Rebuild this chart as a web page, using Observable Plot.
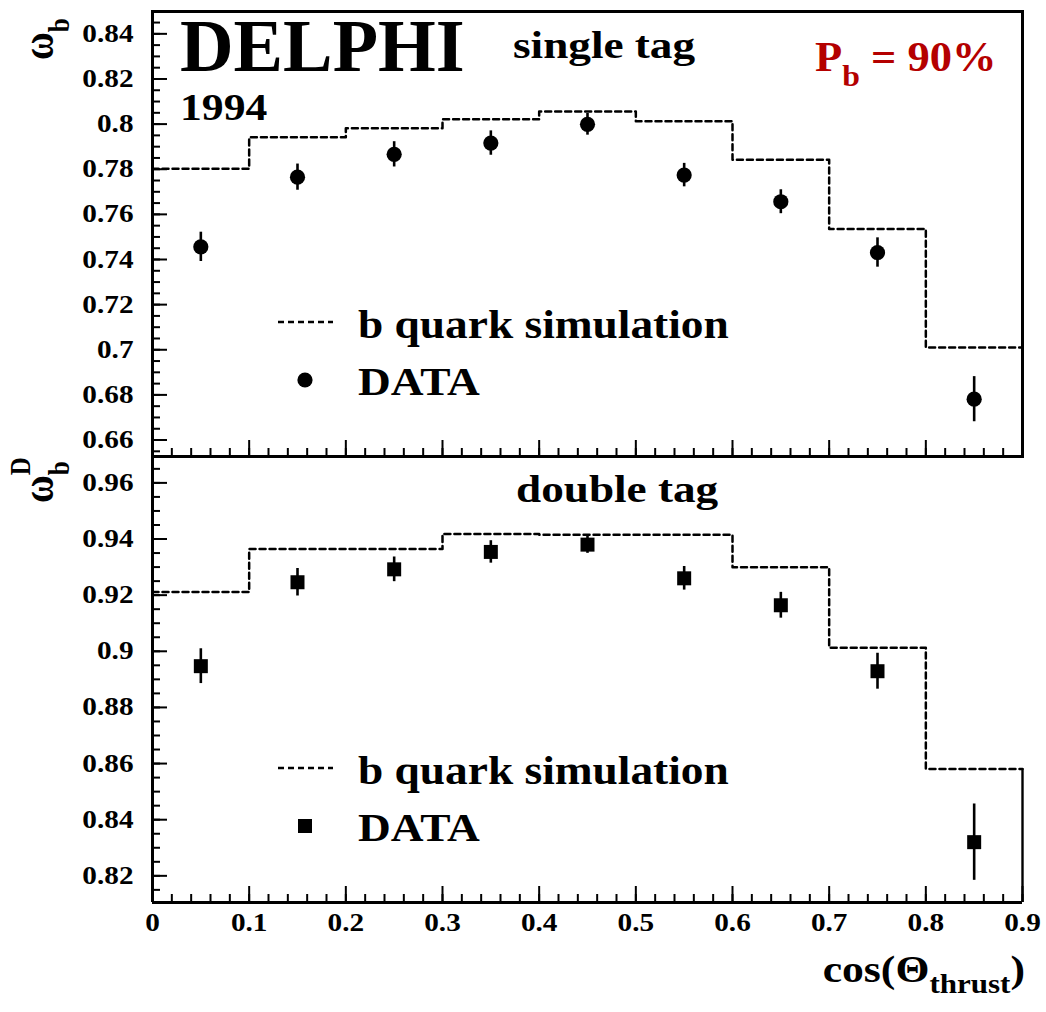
<!DOCTYPE html>
<html><head><meta charset="utf-8">
<script src="https://cdn.jsdelivr.net/npm/d3@7"></script>
<script src="https://cdn.jsdelivr.net/npm/@observablehq/plot@0.6"></script>
<style>
body{margin:0;background:#fff;}
#wrap{position:relative;width:1046px;height:1012px;overflow:hidden;background:#fff;}
#wrap svg{position:absolute;left:0;max-width:none;}
</style></head><body><div id="wrap"></div>
<script>
// ---- data ----
const binEdges   = [0, 0.1, 0.2, 0.3, 0.4, 0.5, 0.6, 0.7, 0.8, 0.9];
const binCenters = [0.05, 0.15, 0.25, 0.35, 0.45, 0.55, 0.65, 0.75, 0.85];

const simSingle  = [0.7802, 0.7942, 0.7982, 0.8021, 0.8056, 0.8013, 0.7842, 0.7535, 0.7010];
const dataSingle = [0.7456, 0.7765, 0.7866, 0.7916, 0.7999, 0.7774, 0.7656, 0.7431, 0.6781];
const errSingle  = [0.0065, 0.0058, 0.0056, 0.0054, 0.0048, 0.0052, 0.0053, 0.0065, 0.0100];

const simDouble  = [0.9211, 0.9364, 0.9364, 0.9418, 0.9415, 0.9415, 0.9299, 0.9013, 0.8581];
const dataDouble = [0.8947, 0.9246, 0.9292, 0.9354, 0.9380, 0.9260, 0.9164, 0.8929, 0.8320];
const errDouble  = [0.0062, 0.0049, 0.0044, 0.0040, 0.0031, 0.0042, 0.0046, 0.0064, 0.0136];

const xTickLabels   = [0, 0.1, 0.2, 0.3, 0.4, 0.5, 0.6, 0.7, 0.8, 0.9];
const yTickSingle   = [0.66, 0.68, 0.70, 0.72, 0.74, 0.76, 0.78, 0.80, 0.82, 0.84];
const yTickDouble   = [0.82, 0.84, 0.86, 0.88, 0.90, 0.92, 0.94, 0.96];

const xDomain = [0, 0.9];
const yDomainSingle = [0.6527, 0.8499];
const yDomainDouble = [0.8105, 0.9694];

// ---- layout ----
const W = 1046, ML = 152, MR = 24;
const FONT = '"Liberation Serif","Times New Roman",Times,serif';
const SX = 1.17; // horizontal stretch of the original text
const fmt = d => String(Math.round(d * 1000) / 1000);
const minorOf = (dom, step) => d3.range(Math.ceil(dom[0] / step - 1e-9), Math.floor(dom[1] / step + 1e-9) + 1).map(i => +(i * step).toFixed(4));
const DASH = "6,4";

function panel(o) {
  const plotH = o.height - o.marginTop - o.marginBottom;
  const plotW = W - ML - MR;
  const step = binEdges.map((e, i) => ({x: e, y: o.sim[Math.min(i, o.sim.length - 1)]}));
  const pts = binCenters.map((c, i) => ({x: c, y: o.val[i], e: o.err[i]}));
  const yMinor = minorOf(o.yDomain, 0.005);
  const xMinor = minorOf(xDomain, 0.02);
  const marks = [
    Plot.line(step, {x: "x", y: "y", curve: "step-after", stroke: "#000", strokeWidth: 2.5, strokeDasharray: DASH}),
    Plot.ruleX(pts, {x: "x", y1: d => d.y - d.e, y2: d => d.y + d.e, stroke: "#000", strokeWidth: 2.6}),
    Plot.dot(pts, {x: "x", y: "y", r: o.r, symbol: o.symbol, fill: "#000", stroke: "none"}),
    // ticks (inward)
    Plot.ruleY(yMinor, {y: d => d, insetRight: plotW - 8, stroke: "#000", strokeWidth: 2}),
    Plot.ruleY(o.yTicks, {y: d => d, insetRight: plotW - 15, stroke: "#000", strokeWidth: 2}),
    Plot.ruleX(xMinor, {x: d => d, insetTop: plotH - 8, stroke: "#000", strokeWidth: 2}),
    Plot.ruleX(xTickLabels, {x: d => d, insetTop: plotH - 16, stroke: "#000", strokeWidth: 2}),
    Plot.axisY(o.yTicks, {tickSize: 0, tickPadding: 19, tickFormat: fmt, label: null, fontSize: 25, fontWeight: "bold", fontFamily: FONT, fill: "#000"})
  ];
  if (o.fullFrame) marks.push(Plot.frame({stroke: "#000", strokeWidth: 3}));
  else {
    marks.push(Plot.ruleX([xDomain[0]], {stroke: "#000", strokeWidth: 3}));
    marks.push(Plot.ruleY([o.yDomain[0]], {stroke: "#000", strokeWidth: 3}));
    marks.push(Plot.ruleX([binEdges[binEdges.length - 1]], {y1: o.sim[o.sim.length - 1], y2: o.yDomain[0], stroke: "#000", strokeWidth: 2.4}));
  }
  if (o.showX) marks.push(Plot.axisX(xTickLabels, {tickSize: 0, tickPadding: 11, tickFormat: fmt, label: null, fontSize: 25, fontWeight: "bold", fontFamily: FONT, fill: "#000"}));
  const svg = Plot.plot({
    width: W, height: o.height,
    marginLeft: ML, marginRight: MR, marginTop: o.marginTop, marginBottom: o.marginBottom,
    style: {fontFamily: FONT, fontWeight: "bold", fontSize: "25px", color: "#000", background: "transparent", overflow: "visible"},
    x: {domain: xDomain, axis: null},
    y: {domain: o.yDomain, axis: null},
    marks
  });
  svg.setAttribute("font-family", FONT);
  svg.querySelectorAll("text").forEach(t => {
    t.style.fontFamily = FONT;
    const tr = t.getAttribute("transform");
    if (tr && !t.hasAttribute("x")) t.setAttribute("transform", tr + ` scale(${SX},1)`);
  });
  svg.style.top = o.top + "px";
  return svg;
}

const wrap = document.getElementById("wrap");
wrap.appendChild(panel({sim: simSingle, val: dataSingle, err: errSingle, symbol: "circle", r: 7.6,
  yDomain: yDomainSingle, yTicks: yTickSingle, height: 460, marginTop: 11, marginBottom: 4, top: 0, fullFrame: true, showX: false}));
wrap.appendChild(panel({sim: simDouble, val: dataDouble, err: errDouble, symbol: "square", r: 7.9,
  yDomain: yDomainDouble, yTicks: yTickDouble, height: 560, marginTop: 4, marginBottom: 110, top: 452, fullFrame: false, showX: true}));

// ---- annotations & legends ----
const ov = d3.select(wrap).append("svg").attr("width", W).attr("height", 1012)
  .style("top", "0px").style("font-family", FONT).style("font-weight", "bold");
function txt(x, y, size, str, sx, fill) {
  return ov.append("text").attr("transform", `translate(${x},${y}) scale(${sx},1)`)
    .attr("font-size", size).attr("fill", fill || "#000").text(str);
}
txt(180, 71, 75, "DELPHI", 0.99);
txt(180, 120, 37, "1994", 1.18);
txt(513, 58, 38, "single tag", 1.19);
txt(516, 502, 38, "double tag", 1.19);
const pb = txt(815, 71, 42, "P", 1.06, "#b40000");
pb.append("tspan").attr("font-size", 30).attr("dy", 15).text("b");
pb.append("tspan").attr("dy", -15).text(" = 90%");

const legendRows = [
  {y: 322, sym: "circle", symY: 380, tY1: 338, tY2: 395},
  {y: 768, sym: "square", symY: 826, tY1: 784, tY2: 841}
];
const legendLabels = ["b quark simulation", "DATA"];
legendRows.forEach(r => {
  ov.append("line").attr("x1", 278).attr("x2", 333).attr("y1", r.y).attr("y2", r.y)
    .attr("stroke", "#000").attr("stroke-width", 2.5).attr("stroke-dasharray", DASH);
  if (r.sym === "circle") ov.append("circle").attr("cx", 305).attr("cy", r.symY).attr("r", 7.6).attr("fill", "#000");
  else ov.append("rect").attr("x", 298).attr("y", r.symY - 7).attr("width", 14).attr("height", 14).attr("fill", "#000");
  txt(358, r.tY1, 40, legendLabels[0], 1.135);
  txt(358, r.tY2, 40, legendLabels[1], 1.135);
});

// y-axis titles
const w1 = ov.append("text").attr("transform", "translate(53,60) scale(1.15,1) rotate(-90)").attr("font-size", 38).text("ω");
w1.append("tspan").attr("font-size", 25).attr("dy", 14).text("b");
const w2 = ov.append("text").attr("transform", "translate(53,503) scale(1.15,1) rotate(-90)").attr("font-size", 38).text("ω");
w2.append("tspan").attr("font-size", 25).attr("dy", 14).text("b");
w2.append("tspan").attr("font-size", 25).attr("dx", -14).attr("dy", -34).text("D");

// x-axis title
const xt = ov.append("text").attr("transform", "translate(1025,982) scale(1.15,1)").attr("text-anchor", "end").attr("font-size", 38).text("cos(Θ");
xt.append("tspan").attr("font-size", 27).attr("dy", 11).text("thrust");
xt.append("tspan").attr("dy", -11).text(")");
</script></body></html>
